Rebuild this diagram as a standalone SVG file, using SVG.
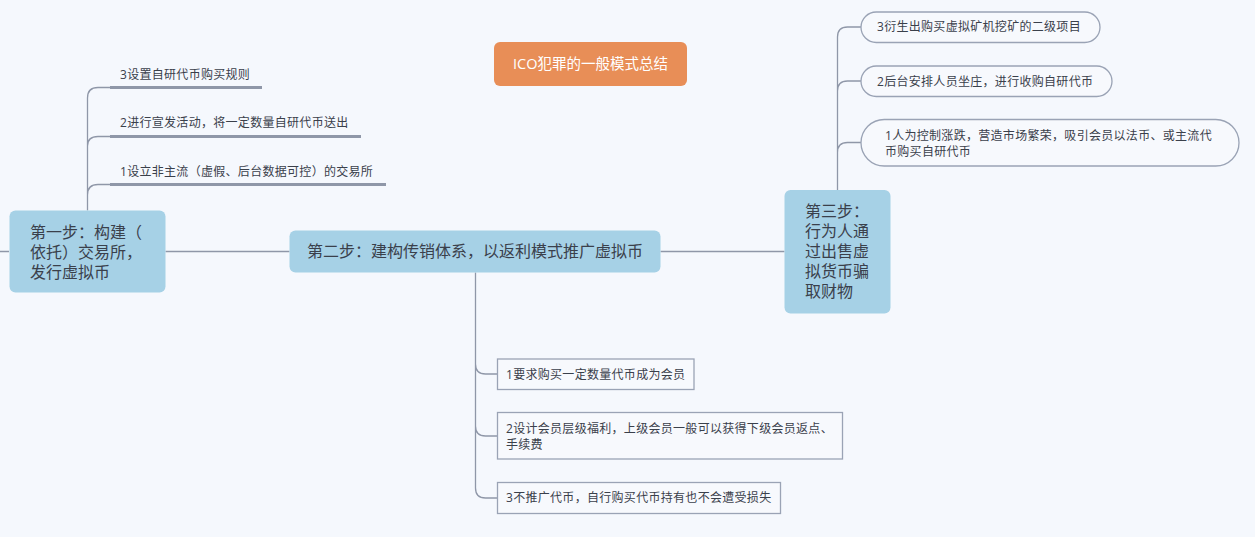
<svg xmlns="http://www.w3.org/2000/svg" width="1255" height="537" viewBox="0 0 1255 537">
<style>
text{font-family:"Open Sans","Noto Sans CJK SC",sans-serif;fill:#3a404b}
.main{font-size:16px}
.sub{font-size:12px;letter-spacing:0.3px}
.node{fill:#a6d1e6}
.ln{fill:none;stroke:#8f97a8;stroke-width:1.3}
.ul{fill:none;stroke:#8f97a8;stroke-width:3}
.box{fill:#f7f9fd;stroke:#9aa3b5;stroke-width:1.3}
</style>
<rect width="1255" height="537" fill="#f5f8fd"/>
<g id="connectors">
<path class="ln" d="M0 251.5H9M165.5 251.5H289.5M660.5 251.5H784.5"/>
<path class="ln" d="M87.5 210.5V98Q87.5 87.5 98 87.5H110M87.5 146V146Q87.5 136.5 98 136.5H110M87.5 195Q87.5 184.5 98 184.5H110"/>
<path class="ul" d="M110 87.5H262M110 136.5H361M110 184.5H386"/>
<path class="ln" d="M837.5 190V37Q837.5 27 847.5 27H861M837.5 91Q837.5 81 847.5 81H861M837.5 152.5Q837.5 142.5 847.5 142.5H861"/>
<path class="ln" d="M475.5 272.5V488Q475.5 498 485.5 498H497.5M475.5 364Q475.5 374 485.5 374H497.5M475.5 426Q475.5 436 485.5 436H497.5"/>
</g>
<g id="title">
<rect x="494" y="42" width="193" height="44" rx="6" fill="#e88e57"/>
<text x="590.5" y="69" class="main" text-anchor="middle" style="fill:#ffffff;font-size:14.5px">ICO犯罪的一般模式总结</text>
</g>
<g id="step1">
<rect class="node" x="9.5" y="210.5" width="156" height="82" rx="6"/>
<text class="main" x="30" y="238">第一步：构建（</text>
<text class="main" x="30" y="258">依托）交易所，</text>
<text class="main" x="30" y="278">发行虚拟币</text>
</g>
<g id="s1-3"><text class="sub" x="120" y="79">3设置自研代币购买规则</text></g>
<g id="s1-2"><text class="sub" x="120" y="127">2进行宣发活动，将一定数量自研代币送出</text></g>
<g id="s1-1"><text class="sub" x="120" y="175.5">1设立非主流（虚假、后台数据可控）的交易所</text></g>
<g id="step2">
<rect class="node" x="289.5" y="230.5" width="371" height="42" rx="6"/>
<text class="main" x="475" y="257" text-anchor="middle">第二步：建构传销体系，以返利模式推广虚拟币</text>
</g>
<g id="s2-1">
<rect class="box" x="497.5" y="359" width="196.5" height="30.5"/>
<text class="sub" x="506" y="378.5">1要求购买一定数量代币成为会员</text>
</g>
<g id="s2-2">
<rect class="box" x="497.5" y="412.5" width="345" height="46.5"/>
<text class="sub" x="506" y="432.5">2设计会员层级福利，上级会员一般可以获得下级会员返点、</text>
<text class="sub" x="506" y="448.5">手续费</text>
</g>
<g id="s2-3">
<rect class="box" x="497.5" y="482.5" width="283" height="31"/>
<text class="sub" x="506" y="502">3不推广代币，自行购买代币持有也不会遭受损失</text>
</g>
<g id="step3">
<rect class="node" x="784.5" y="190" width="106" height="123.5" rx="6"/>
<text class="main" x="805" y="217">第三步：</text>
<text class="main" x="805" y="237">行为人通</text>
<text class="main" x="805" y="257">过出售虚</text>
<text class="main" x="805" y="277">拟货币骗</text>
<text class="main" x="805" y="297">取财物</text>
</g>
<g id="s3-3">
<rect class="box" x="861" y="12" width="239" height="30.5" rx="15.25"/>
<text class="sub" x="877" y="31">3衍生出购买虚拟矿机挖矿的二级项目</text>
</g>
<g id="s3-2">
<rect class="box" x="861" y="66" width="251" height="30.5" rx="15.25"/>
<text class="sub" x="877" y="85.5">2后台安排人员坐庄，进行收购自研代币</text>
</g>
<g id="s3-1">
<rect class="box" x="861" y="119.5" width="378" height="46.5" rx="23.25"/>
<text class="sub" x="885" y="139.5">1人为控制涨跌，营造市场繁荣，吸引会员以法币、或主流代</text>
<text class="sub" x="885" y="155.5">币购买自研代币</text>
</g>
</svg>
